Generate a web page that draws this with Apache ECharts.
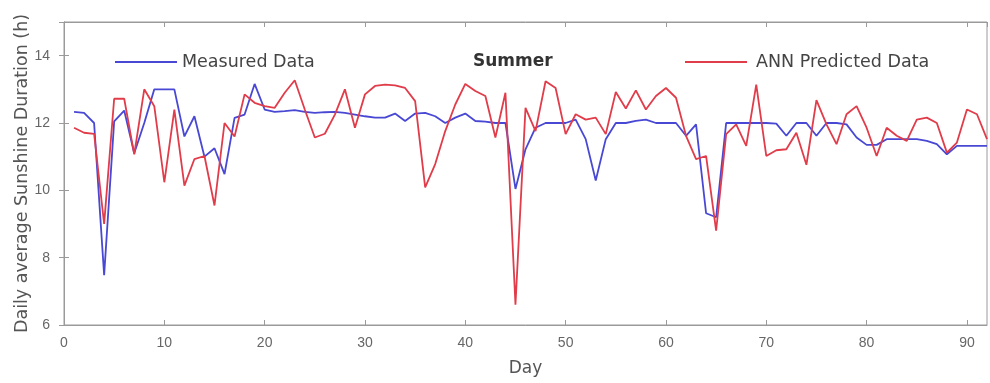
<!DOCTYPE html>
<html>
<head>
<meta charset="utf-8">
<script src="https://cdn.jsdelivr.net/npm/echarts@6/dist/echarts.min.js"></script>
<style>html,body{margin:0;padding:0;background:#fff}#c{width:990px;height:383px}</style>
</head>
<body>
<div id="c"></div>
<script>
const days = Array.from({length: 92}, (_, i) => i + 1);
const measured = [
  12.33, 12.3, 12.0, 7.48, 12.05, 12.37, 11.1, 12.0, 13.0, 13.0,
  13.0, 11.6, 12.2, 11.0, 11.25, 10.48, 12.15, 12.25, 13.16, 12.4,
  12.33, 12.35, 12.38, 12.33, 12.3, 12.32, 12.33, 12.3, 12.25, 12.2,
  12.16, 12.16, 12.28, 12.06, 12.28, 12.3, 12.2, 12.0, 12.16, 12.28,
  12.06, 12.04, 12.0, 12.0, 10.04, 11.22, 11.86, 12.0, 12.0, 12.0,
  12.1, 11.52, 10.29, 11.52, 12.0, 12.0, 12.06, 12.1, 12.0, 12.0,
  12.0, 11.62, 11.96, 9.32, 9.2, 12.0, 12.0, 12.0, 12.0, 12.0,
  11.98, 11.62, 12.0, 12.0, 11.62, 12.0, 12.0, 11.96, 11.57, 11.35,
  11.35, 11.52, 11.52, 11.52, 11.52, 11.47, 11.37, 11.07, 11.32, 11.32,
  11.32, 11.32
];
const predicted = [
  11.86, 11.71, 11.68, 9.0, 12.72, 12.72, 11.07, 13.0, 12.5, 10.24,
  12.4, 10.14, 10.93, 11.02, 9.55, 12.0, 11.6, 12.85, 12.6, 12.5,
  12.45, 12.9, 13.27, 12.4, 11.57, 11.68, 12.25, 13.0, 11.86, 12.85,
  13.1, 13.14, 13.12, 13.04, 12.65, 10.09, 10.78, 11.76, 12.55, 13.16,
  12.95, 12.8, 11.57, 12.9, 6.6, 12.45, 11.76, 13.24, 13.04, 11.67,
  12.26, 12.1, 12.16, 11.67, 12.92, 12.43, 12.97, 12.4, 12.8, 13.04,
  12.75, 11.62, 10.93, 11.02, 8.8, 11.67, 11.96, 11.32, 13.14, 11.02,
  11.19, 11.22, 11.71, 10.76, 12.68, 11.96, 11.37, 12.26, 12.5, 11.86,
  11.02, 11.86, 11.62, 11.47, 12.1, 12.16, 12.0, 11.12, 11.42, 12.4,
  12.26, 11.52
];
const seriesNames = ['Measured Data', 'ANN Predicted Data'];
const titleText = 'Summer';
const xName = 'Day';
const yName = 'Daily average Sunshine Duration (h)';

const font = 'Liberation Sans, Arial, Helvetica, sans-serif';
const wide = 'DejaVu Sans, sans-serif';
const axisCol = '#9a9a9a';
const blue = '#4848d4';
const red = '#e03c4a';
const chart = echarts.init(document.getElementById('c'), null, {renderer: 'canvas'});
chart.setOption({
  animation: false,
  backgroundColor: '#ffffff',
  title: {
    text: titleText, left: 468, top: 48,
    textStyle: {fontFamily: wide, fontSize: 17, fontWeight: 'bold', color: '#333'}
  },
  legend: [
    {data: [{name: seriesNames[0], icon: 'rect', itemStyle: {color: blue}}], left: 115, top: 53, padding: 0,
     itemWidth: 62, itemHeight: 2,
     textStyle: {fontFamily: wide, fontSize: 17.5, color: '#444'}},
    {data: [{name: seriesNames[1], icon: 'rect', itemStyle: {color: red}}], left: 685, top: 53, padding: 0,
     itemWidth: 62, itemHeight: 2,
     textStyle: {fontFamily: wide, fontSize: 17.5, color: '#444', padding: [0, 0, 0, 4]}}
  ],
  grid: {left: 64, right: 3, top: 22, bottom: 58, show: true, borderColor: axisCol, borderWidth: 1},
  xAxis: [
    {type: 'value', min: 0, max: 92, interval: 10, position: 'bottom',
     name: xName, nameLocation: 'middle', nameGap: 35, nameMoveOverlap: false,
     nameTextStyle: {fontFamily: wide, fontSize: 17, color: '#555'},
     axisLine: {lineStyle: {color: axisCol}},
     axisTick: {inside: true, length: 5, lineStyle: {color: axisCol}},
     axisLabel: {fontFamily: font, fontSize: 14, color: '#666', margin: 11, showMaxLabel: false},
     splitLine: {show: false}},
    {type: 'value', min: 0, max: 92, interval: 10, position: 'top',
     axisLine: {lineStyle: {color: axisCol}},
     axisTick: {inside: true, length: 5, lineStyle: {color: axisCol}},
     axisLabel: {show: false}, splitLine: {show: false}}
  ],
  yAxis: [
    {type: 'value', min: 6, max: 15, interval: 2, position: 'left',
     name: yName, nameLocation: 'middle', nameGap: 33, nameMoveOverlap: false,
     nameTextStyle: {fontFamily: wide, fontSize: 17.5, color: '#555'},
     axisLine: {show: true, lineStyle: {color: axisCol}},
     axisTick: {show: true, inside: true, length: 5, lineStyle: {color: axisCol}},
     axisLabel: {fontFamily: font, fontSize: 14, color: '#666', margin: 14, showMaxLabel: false},
     splitLine: {show: false}},
    {type: 'value', min: 6, max: 15, interval: 2, position: 'right',
     axisLine: {show: true, lineStyle: {color: axisCol}},
     axisTick: {show: true, inside: true, length: 5, lineStyle: {color: axisCol}},
     axisLabel: {show: false}, splitLine: {show: false}}
  ],
  series: [
    {name: seriesNames[0], type: 'line', symbol: 'none', xAxisIndex: 0, yAxisIndex: 0,
     data: days.map((d, i) => [d, measured[i]]),
     lineStyle: {color: blue, width: 1.8}, itemStyle: {color: blue}, z: 3},
    {name: seriesNames[1], type: 'line', symbol: 'none', xAxisIndex: 0, yAxisIndex: 0,
     data: days.map((d, i) => [d, predicted[i]]),
     lineStyle: {color: red, width: 1.8}, itemStyle: {color: red}, z: 4}
  ]
});
</script>
</body>
</html>
